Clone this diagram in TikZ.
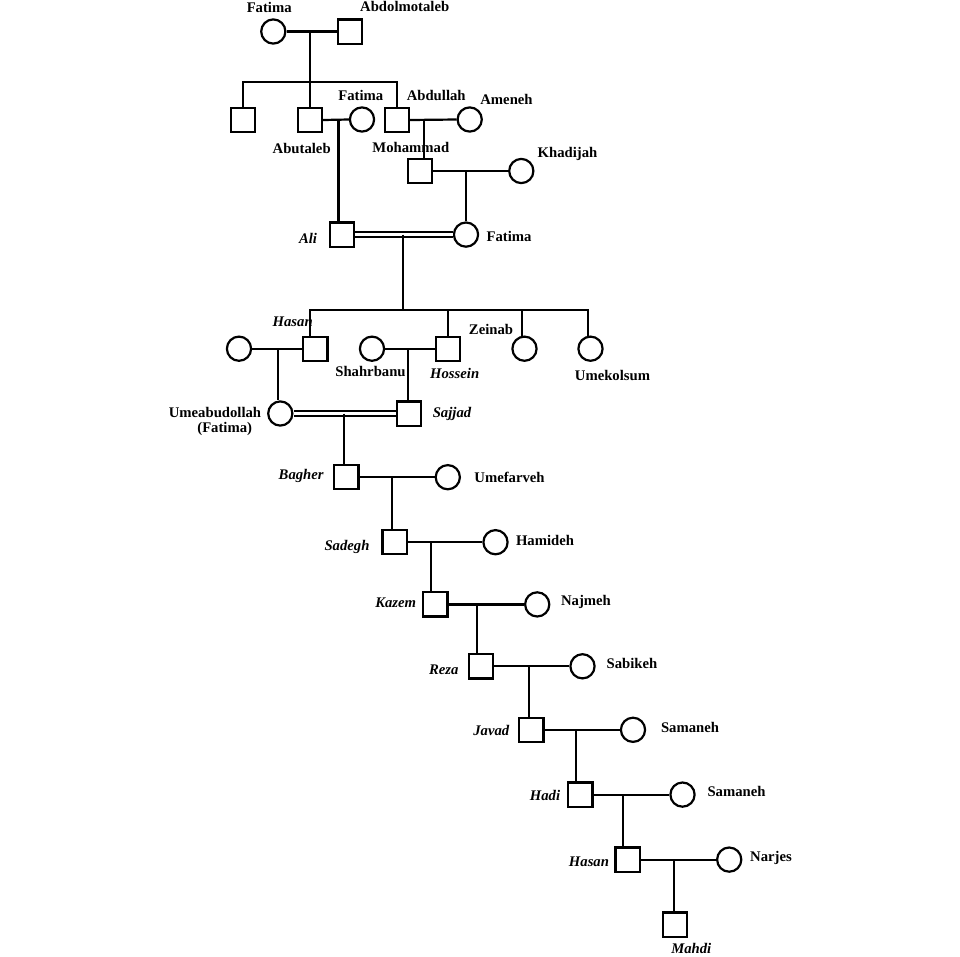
\documentclass[tikz,border=0pt]{standalone}
\usepackage{fontspec}
\setmainfont{Liberation Serif}
\newcommand{\lblfont}{\fontsize{14.7}{16}\selectfont\bfseries}
\newcommand{\ilblfont}{\fontsize{14.7}{16}\selectfont\bfseries\itshape}
\begin{document}
\begin{tikzpicture}[x=1pt,y=-1pt,
  fem/.style={circle, draw, line width=2.2pt, minimum size=24.2pt, inner sep=0pt},
  mal/.style={rectangle, draw, line width=2.2pt, minimum size=24.2pt, inner sep=0pt},
  lbl/.style={font=\lblfont, inner sep=0pt, align=center},
  ilbl/.style={font=\ilblfont, inner sep=0pt},
  ln/.style={line width=2.2pt, line join=miter},
  dbl/.style={double, double distance=2.6pt, line width=2pt}]
\fill[white] (0,0) rectangle (960,956);
\useasboundingbox (0,0) rectangle (960,956);

% ---- Generation 0
\node[fem] (F0) at (273.3,31.5) {};
\node[mal] (A0) at (349.7,31.5) {};
\node[lbl] (lF0) at (269.2,7.5) {Fatima};
\node[lbl] (lA0) at (404.7,6.5) {Abdolmotaleb};
\coordinate (m0) at (310,31.5);
\coordinate (s0) at (310,81.7);
\coordinate (s0l) at (243,81.7);
\coordinate (s0r) at (397,81.7);

% ---- Generation 1
\node[mal] (S1) at (243,120) {};
\node[mal] (Abutaleb) at (310,120) {};
\node[mal] (Abdullah) at (397,120) {};
\node[fem] (FA) at (362,119.5) {};
\node[fem] (Ameneh) at (469.7,119.5) {};
\node[lbl] (lFA) at (360.8,95.7) {Fatima};
\node[lbl] (lAbutaleb) at (301.7,148.3) {Abutaleb};
\node[lbl] (lAbdullah) at (436.2,95.7) {Abdullah};
\node[lbl] (lAmeneh) at (506.5,99) {Ameneh};
\coordinate (m1) at (338.4,119.5);
\coordinate (m2) at (424.3,119.5);

% ---- Mohammad
\node[mal] (Mohammad) at (419.7,171) {};
\node[fem] (Khadijah) at (521.3,171) {};
\node[lbl] (lMohammad) at (410.8,147.7) {Mohammad};
\node[lbl] (lKhadijah) at (567.5,154.3) {Khadijah};
\coordinate (m3) at (466,171);

% ---- Ali & Fatima
\node[mal] (Ali) at (342.2,234.6) {};
\node[fem] (FB) at (466,234.6) {};
\node[ilbl] (lAli) at (308,238.3) {Ali};
\node[lbl] (lFB) at (509,236.7) {Fatima};
\coordinate (m4) at (402.7,234.6);
\coordinate (s4) at (402.7,310);
\coordinate (vHasan) at (310,310);
\coordinate (vHossein) at (448.3,310);
\coordinate (vZeinab) at (521.7,310);
\coordinate (vUmek) at (588.3,310);

% ---- Children of Ali
\node[fem] (HW) at (239,348.7) {};
\node[mal] (Hasan) at (315.3,348.7) {};
\node[fem] (Shahrbanu) at (372,348.7) {};
\node[mal] (Hossein) at (448,348.7) {};
\node[fem] (Zeinab) at (524.5,348.7) {};
\node[fem] (Umek) at (590.5,348.7) {};
\node[ilbl] (lHasan) at (292.7,321.7) {Hasan};
\node[lbl] (lShahrbanu) at (370.5,371) {Shahrbanu};
\node[ilbl] (lHossein) at (454.7,373.3) {Hossein};
\node[lbl] (lZeinab) at (491,329.3) {Zeinab};
\node[lbl] (lUmek) at (612.5,375.3) {Umekolsum};
\coordinate (m5) at (277.7,348.7);
\coordinate (m6) at (408.3,348.7);

% ---- Umeabudollah & Sajjad
\node[fem] (Umea) at (280.3,413.5) {};
\node[mal] (Sajjad) at (408.7,413.5) {};
\node[lbl] (lUmea) at (215,412.5) {Umeabudollah};
\node[lbl] (lUmea2) at (224.7,428.5) {(Fatima)};
\node[ilbl] (lSajjad) at (452,414.3) {Sajjad};
\coordinate (m7) at (344,413.5);

% ---- Line of descent
\node[mal] (Bagher) at (346.3,477.2) {};
\node[fem] (Umefarveh) at (447.8,477.2) {};
\node[ilbl] (lBagher) at (301.2,476) {Bagher};
\node[lbl] (lUmefarveh) at (509.5,477) {Umefarveh};
\coordinate (m8) at (392.3,477.2);

\node[mal] (Sadegh) at (394.5,542.2) {};
\node[fem] (Hamideh) at (495.5,542.2) {};
\node[ilbl] (lSadegh) at (347,547.3) {Sadegh};
\node[lbl] (lHamideh) at (545,540.7) {Hamideh};
\coordinate (m9) at (431,542.2);

\node[mal] (Kazem) at (435.3,604.4) {};
\node[fem] (Najmeh) at (537.2,604.4) {};
\node[ilbl] (lKazem) at (395.7,602.7) {Kazem};
\node[lbl] (lNajmeh) at (586,602) {Najmeh};
\coordinate (m10) at (476.7,604.4);

\node[mal] (Reza) at (480.7,666.3) {};
\node[fem] (Sabikeh) at (582.5,666.3) {};
\node[ilbl] (lReza) at (443.7,669.3) {Reza};
\node[lbl] (lSabikeh) at (632,663.3) {Sabikeh};
\coordinate (m11) at (529,666.3);

\node[mal] (Javad) at (531.3,729.8) {};
\node[fem] (Samaneh) at (633,729.8) {};
\node[ilbl] (lJavad) at (491.3,730.7) {Javad};
\node[lbl] (lSamaneh) at (690,727.7) {Samaneh};
\coordinate (m12) at (575.7,729.8);

\node[mal] (Hadi) at (580.3,794.6) {};
\node[fem] (SamanehB) at (682.5,794.6) {};
\node[ilbl] (lHadi) at (545,795.3) {Hadi};
\node[lbl] (lSamanehB) at (736.5,791.7) {Samaneh};
\coordinate (m13) at (623.3,794.6);

\node[mal] (HasanB) at (627.5,859.6) {};
\node[fem] (Narjes) at (729.2,859.6) {};
\node[ilbl] (lHasanB) at (589,861.7) {Hasan};
\node[lbl] (lNarjes) at (771,858.3) {Narjes};
\coordinate (m14) at (674,859.6);

\node[mal] (Mahdi) at (674.7,924.5) {};
\node[ilbl] (lMahdi) at (691.3,948) {Mahdi};

% ---- Connectors
\draw[ln] (F0.east) -- (A0.west);
\draw[ln] (m0) -- (s0);
\draw[ln] (s0l |- S1.north) -- (s0l) -- (s0r) -- (s0r |- Abdullah.north);
\draw[ln] (s0) -- (Abutaleb.north);

\draw[ln] (Abutaleb.east) -- (FA.west);
\draw[ln] (Abdullah.east) -- (Ameneh.west);
\draw[ln] (m1) -- (m1 |- Ali.north);
\draw[ln] (m2) -- (m2 |- Mohammad.north);

\draw[ln] (Mohammad.east) -- (Khadijah.west);
\draw[ln] (m3) -- (FB.north);

\draw[dbl] (Ali.east) -- (FB.west);
\draw[ln] (m4) -- (s4);
\draw[ln] (vHasan |- Hasan.north) -- (vHasan) -- (vUmek) -- (vUmek |- Umek.north);
\draw[ln] (vHossein) -- (vHossein |- Hossein.north);
\draw[ln] (vZeinab) -- (vZeinab |- Zeinab.north);

\draw[ln] (HW.east) -- (Hasan.west);
\draw[ln] (Shahrbanu.east) -- (Hossein.west);
\draw[ln] (m5) -- (m5 |- Umea.north);
\draw[ln] (m6) -- (m6 |- Sajjad.north);

\draw[dbl] (Umea.east) -- (Sajjad.west);
\draw[ln] (m7) -- (m7 |- Bagher.north);

\draw[ln] (Bagher.east) -- (Umefarveh.west);
\draw[ln] (m8) -- (m8 |- Sadegh.north);
\draw[ln] (Sadegh.east) -- (Hamideh.west);
\draw[ln] (m9) -- (m9 |- Kazem.north);
\draw[ln] (Kazem.east) -- (Najmeh.west);
\draw[ln] (m10) -- (m10 |- Reza.north);
\draw[ln] (Reza.east) -- (Sabikeh.west);
\draw[ln] (m11) -- (m11 |- Javad.north);
\draw[ln] (Javad.east) -- (Samaneh.west);
\draw[ln] (m12) -- (m12 |- Hadi.north);
\draw[ln] (Hadi.east) -- (SamanehB.west);
\draw[ln] (m13) -- (m13 |- HasanB.north);
\draw[ln] (HasanB.east) -- (Narjes.west);
\draw[ln] (m14) -- (m14 |- Mahdi.north);
\end{tikzpicture}
\end{document}
